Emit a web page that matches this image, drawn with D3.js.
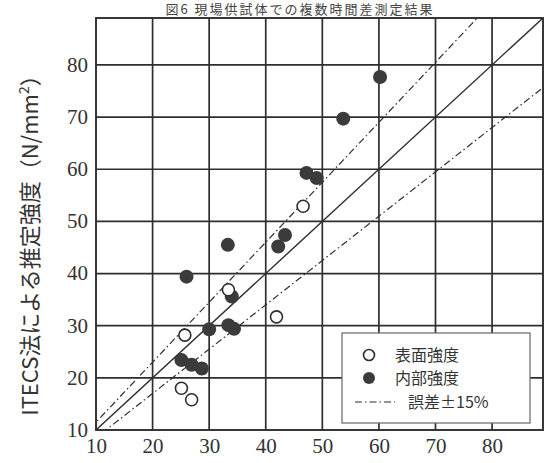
<!DOCTYPE html>
<html>
<head>
<meta charset="utf-8">
<script src="https://cdn.jsdelivr.net/npm/d3@7"></script>
<style>
  body { margin: 0; background: #fff; }
  svg { display: block; }
</style>
</head>
<body>
<svg id="chart" width="548" height="463"></svg>
<script>
// 表面強度 (open circles)
const surfaceX = [46.6, 33.4, 41.9, 25.7, 25.1, 26.9];
const surfaceY = [52.9, 36.9, 31.7, 28.2, 18.0, 15.8];

// 内部強度 (filled circles)
const innerX = [60.2, 53.7, 47.2, 49.0, 43.4, 42.2, 33.3, 26.0, 34.0, 30.0, 33.4, 34.4, 25.1, 26.9, 28.7];
const innerY = [77.7, 69.7, 59.3, 58.3, 47.4, 45.2, 45.5, 39.4, 35.6, 29.3, 30.1, 29.4, 23.4, 22.5, 21.8];

const tickValues = [10, 20, 30, 40, 50, 60, 70, 80];
const errorFactors = [1.15, 0.85];

const margin = {left: 96, top: 18, right: 5, bottom: 33};
const width = 548, height = 463;
const innerW = width - margin.left - margin.right;
const innerH = height - margin.top - margin.bottom;

const ink = '#2e2e2e';
const serif = '"Liberation Serif", "DejaVu Serif", serif';
const jp = '"Noto Sans CJK JP", sans-serif';

const svg = d3.select('#chart');

// title (cropped at the top in the source scan, kept visible here)
svg.append('text')
	.attr('x', 300).attr('y', 14)
	.attr('text-anchor', 'middle')
	.attr('font-family', jp)
	.attr('font-size', 13)
	.attr('letter-spacing', 2)
	.attr('fill', '#444')
	.text('図6 現場供試体での複数時間差測定結果');

const xScale = d3.scaleLinear().domain([10, 89]).range([0, innerW]);
const yScale = d3.scaleLinear().domain([10, 89]).range([innerH, 0]);

const g = svg.append('g').attr('transform', `translate(${margin.left},${margin.top})`);

g.append('clipPath').attr('id', 'clip')
	.append('rect').attr('width', innerW).attr('height', innerH);

// grid lines
g.append('g').selectAll('line').data(tickValues.slice(1)).join('line')
	.attr('x1', d => xScale(d)).attr('x2', d => xScale(d))
	.attr('y1', 0).attr('y2', innerH)
	.attr('stroke', ink).attr('stroke-width', 1.7);
g.append('g').selectAll('line').data(tickValues.slice(1)).join('line')
	.attr('y1', d => yScale(d)).attr('y2', d => yScale(d))
	.attr('x1', 0).attr('x2', innerW)
	.attr('stroke', ink).attr('stroke-width', 1.7);

// frame
g.append('rect')
	.attr('width', innerW).attr('height', innerH)
	.attr('fill', 'none').attr('stroke', ink).attr('stroke-width', 1.9);

// reference lines: 1:1 and ±15%
const refG = g.append('g').attr('clip-path', 'url(#clip)');
refG.append('line')
	.attr('x1', xScale(10)).attr('y1', yScale(10))
	.attr('x2', xScale(89)).attr('y2', yScale(89))
	.attr('stroke', ink).attr('stroke-width', 1.4);
refG.selectAll('.err').data(errorFactors).join('line')
	.attr('class', 'err')
	.attr('x1', xScale(9)).attr('y1', d => yScale(9 * d))
	.attr('x2', xScale(100)).attr('y2', d => yScale(100 * d))
	.attr('stroke', ink).attr('stroke-width', 1.2)
	.attr('stroke-dasharray', '7,3,1.5,3');

// points
const surface = surfaceX.map((x, i) => ({x, y: surfaceY[i]}));
const inner = innerX.map((x, i) => ({x, y: innerY[i]}));

g.append('g').selectAll('circle').data(inner).join('circle')
	.attr('cx', d => xScale(d.x)).attr('cy', d => yScale(d.y))
	.attr('r', 7).attr('fill', '#3b3b3b');

g.append('g').selectAll('circle').data(surface).join('circle')
	.attr('cx', d => xScale(d.x)).attr('cy', d => yScale(d.y))
	.attr('r', 6).attr('fill', '#fff').attr('stroke', ink).attr('stroke-width', 1.6);

// axes: only the labels, the grid already draws the lines
const xAxis = d3.axisBottom(xScale).tickValues(tickValues).tickSize(0).tickPadding(8);
const xg = g.append('g').attr('transform', `translate(0,${innerH})`).call(xAxis);
xg.select('.domain').remove();
xg.selectAll('.tick text').attr('font-family', serif).attr('font-size', 21).attr('fill', '#333');

const yAxis = d3.axisLeft(yScale).tickValues(tickValues).tickSize(0).tickPadding(8);
const yg = g.append('g').call(yAxis);
yg.select('.domain').remove();
yg.selectAll('.tick text').attr('font-family', serif).attr('font-size', 21).attr('fill', '#333')
	.attr('dy', '0.3em');

// y axis title
const yt = svg.append('text')
	.attr('transform', 'translate(38,240) rotate(-90)')
	.attr('text-anchor', 'middle')
	.attr('font-family', jp)
	.attr('font-size', 22)
	.attr('fill', '#333');
yt.append('tspan').text('ITECS法による推定強度（N/mm');
yt.append('tspan').attr('font-size', 14).attr('dy', -9).text('2');
yt.append('tspan').attr('dy', 9).text('）');

// legend
const lg = g.append('g').attr('transform', `translate(${342 - margin.left},${333 - margin.top})`);
lg.append('rect').attr('width', 188).attr('height', 90)
	.attr('fill', '#fff').attr('stroke', '#666').attr('stroke-width', 1.2);
lg.append('circle').attr('cx', 27).attr('cy', 22).attr('r', 5.5)
	.attr('fill', '#fff').attr('stroke', ink).attr('stroke-width', 1.6);
lg.append('circle').attr('cx', 27).attr('cy', 45).attr('r', 6).attr('fill', '#3b3b3b');
lg.append('line').attr('x1', 13).attr('x2', 53).attr('y1', 69).attr('y2', 69)
	.attr('stroke', ink).attr('stroke-width', 1.2).attr('stroke-dasharray', '7,3,1.5,3');
const legendText = ['表面強度', '内部強度', '誤差±15%'];
lg.selectAll('.lt').data(legendText).join('text')
	.attr('class', 'lt')
	.attr('x', (d, i) => i === 2 ? 66 : 53)
	.attr('y', (d, i) => 22 + i * 23.5)
	.attr('dy', '0.35em')
	.attr('font-family', jp)
	.attr('font-size', 16)
	.attr('fill', '#333')
	.text(d => d);
</script>
</body>
</html>
